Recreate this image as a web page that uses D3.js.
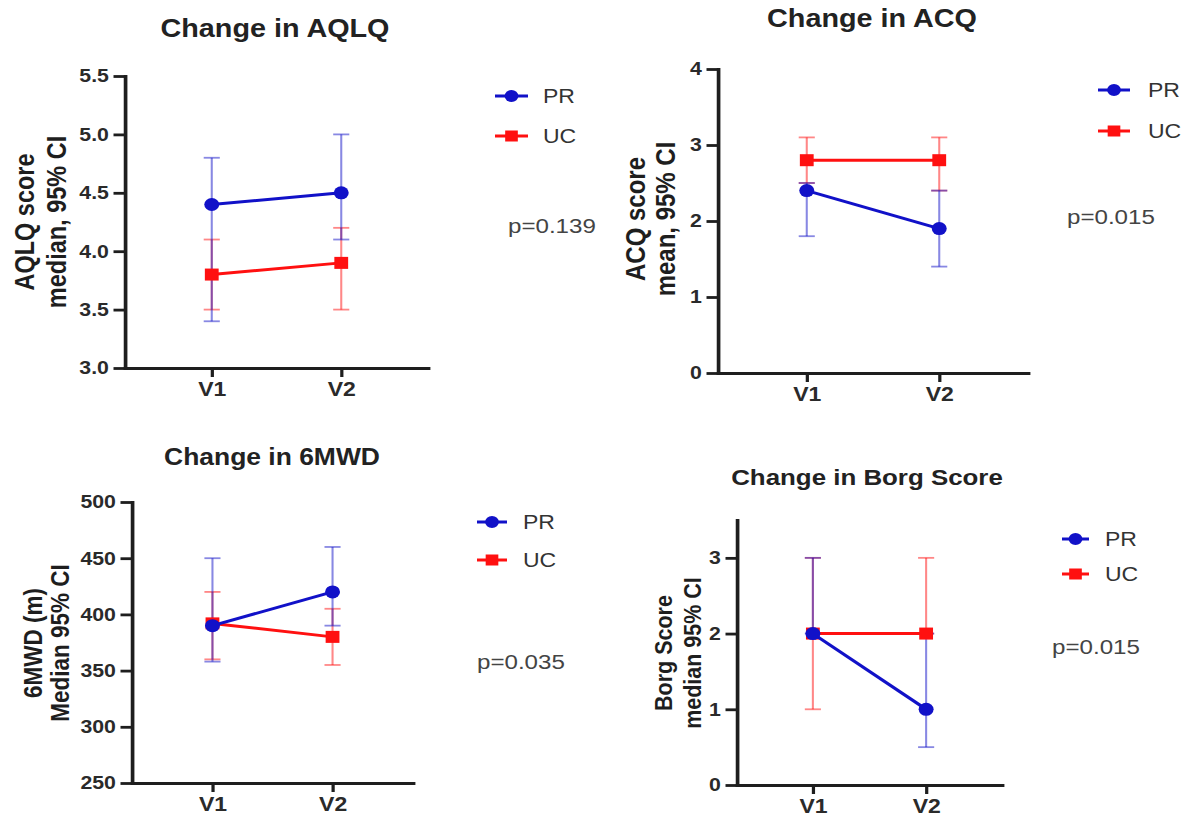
<!DOCTYPE html>
<html>
<head>
<meta charset="utf-8">
<script src="https://cdn.jsdelivr.net/npm/d3@7"></script>
<style>
  body { margin: 0; background: #fff; }
  svg { display: block; }
  text { font-family: "Liberation Sans", Arial, sans-serif; }
</style>
</head>
<body>
<div id="chart"></div>
<script>
// visits on the x axis
const visits = ["V1", "V2"];

// each entry: [value, lower CI, upper CI] per visit
const aqlqPR = [[4.4, 3.4, 4.8], [4.5, 4.1, 5.0]];
const aqlqUC = [[3.8, 3.5, 4.1], [3.9, 3.5, 4.2]];
const acqPR = [[2.4, 1.8, 2.5], [1.9, 1.4, 2.4]];
const acqUC = [[2.8, 2.5, 3.1], [2.8, 2.4, 3.1]];
const mwdPR = [[390, 358, 450], [420, 390, 460]];
const mwdUC = [[392, 360, 420], [380, 355, 405]];
const borgPR = [[2, 2, 3], [1, 0.5, 2]];
const borgUC = [[2, 1, 3], [2, 2, 3]];

// tick labels
const aqlqTicks = [3.0, 3.5, 4.0, 4.5, 5.0, 5.5];
const acqTicks = [0, 1, 2, 3, 4];
const mwdTicks = [250, 300, 350, 400, 450, 500];
const borgTicks = [0, 1, 2, 3];

const pValues = ["p=0.139", "p=0.015", "p=0.035", "p=0.015"];
const seriesNames = ["PR", "UC"];

// the picture is stretched horizontally, everything is drawn in a scaled group
const S = 1.15;
const sx = v => v / S;

const blue = "#1111c8";
const red = "#ff1010";

const svg = d3.select("#chart")
    .append("svg")
    .attr("width", 1198)
    .attr("height", 818);

const root = svg.append("g")
    .attr("transform", `scale(${S},1)`);

// layout of the 4 panels (image pixels)
const panels = [
    {
        title: "Change in AQLQ", titleX: 275, titleY: 37, titleSize: 25,
        ylab: ["AQLQ score", "median, 95% CI"], ylabX: [25, 57], ylabY: 222, ylabSize: 23.5,
        axisX: 125, axisRight: 428, yTop: 76, yBottom: 368,
        domain: [3, 5.5], ticks: aqlqTicks, fmt: d3.format(".1f"),
        pr: aqlqPR, uc: aqlqUC,
        legX0: 495, legX1: 528, legTextX: 543, legY: [96, 136],
        p: pValues[0], pX: 508, pY: 233
    },
    {
        title: "Change in ACQ", titleX: 872, titleY: 27, titleSize: 25,
        ylab: ["ACQ score", "mean, 95% CI"], ylabX: [635, 665], ylabY: 219, ylabSize: 24,
        axisX: 718, axisRight: 1028, yTop: 69, yBottom: 373,
        domain: [0, 4], ticks: acqTicks, fmt: d3.format("d"),
        pr: acqPR, uc: acqUC,
        legX0: 1098, legX1: 1130, legTextX: 1148, legY: [90, 131],
        p: pValues[1], pX: 1067, pY: 224
    },
    {
        title: "Change in 6MWD", titleX: 272, titleY: 465, titleSize: 23,
        ylab: ["6MWD (m)", "Median 95% CI"], ylabX: [33, 60], ylabY: 643, ylabSize: 22.5,
        axisX: 132, axisRight: 413, yTop: 502, yBottom: 783,
        domain: [250, 500], ticks: mwdTicks, fmt: d3.format("d"),
        pr: mwdPR, uc: mwdUC,
        legX0: 477, legX1: 507, legTextX: 523, legY: [522, 560],
        p: pValues[2], pX: 477, pY: 669
    },
    {
        title: "Change in Borg Score", titleX: 867, titleY: 485, titleSize: 22.5,
        ylab: ["Borg Score", "median 95% CI"], ylabX: [663, 692], ylabY: 653, ylabSize: 21.5,
        axisX: 737, axisRight: 1002, yTop: 520, yBottom: 785,
        domain: [0, 3.5], ticks: borgTicks, fmt: d3.format("d"),
        pr: borgPR, uc: borgUC,
        legX0: 1062, legX1: 1089, legTextX: 1105, legY: [539, 574],
        p: pValues[3], pX: 1052, pY: 654
    }
];

// marker helpers
function drawMarker(g, shape, cx, cy, color, size) {
    if (shape === "circle") {
        g.append("circle")
            .attr("cx", cx).attr("cy", cy).attr("r", size / 2)
            .attr("fill", color);
    } else {
        g.append("rect")
            .attr("x", cx - size / 2 + 0.5).attr("y", cy - size / 2 + 0.5)
            .attr("width", size - 1).attr("height", size - 1)
            .attr("fill", color);
    }
}

panels.forEach(p => {
    const g = root.append("g");

    const x = d3.scalePoint()
        .domain(visits)
        .range([sx(p.axisX), sx(p.axisRight)])
        .padding(0.67);

    const y = d3.scaleLinear()
        .domain(p.domain)
        .range([p.yBottom, p.yTop]);

    // titre
    g.append("text")
        .attr("x", sx(p.titleX))
        .attr("y", p.titleY)
        .attr("text-anchor", "middle")
        .style("font-size", p.titleSize + "px")
        .style("font-weight", "bold")
        .attr("fill", "#222")
        .text(p.title);

    // axe Y
    const yAxis = g.append("g")
        .attr("transform", `translate(${sx(p.axisX)},0)`)
        .call(d3.axisLeft(y).tickValues(p.ticks).tickFormat(p.fmt)
            .tickSize(10).tickPadding(4).tickSizeOuter(0));

    // axe X
    const xAxis = g.append("g")
        .attr("transform", `translate(0,${p.yBottom})`)
        .call(d3.axisBottom(x).tickSize(9).tickPadding(5).tickSizeOuter(0));

    [yAxis, xAxis].forEach(a => {
        a.select(".domain").attr("stroke", "#1e1e1e").attr("stroke-width", 3.2)
            .attr("stroke-linecap", "square");
        a.selectAll(".tick line").attr("stroke", "#1e1e1e").attr("stroke-width", 2.8);
        a.selectAll(".tick text")
            .attr("fill", "#2a2a2a")
            .style("font-weight", "bold")
            .style("font-family", "'Liberation Sans', Arial, sans-serif");
    });
    yAxis.selectAll(".tick text").style("font-size", "18.5px");
    xAxis.selectAll(".tick text").style("font-size", "20px");

    // titre axe Y (2 lignes)
    p.ylab.forEach((t, i) => {
        g.append("text")
            .attr("transform", `translate(${sx(p.ylabX[i])},${p.ylabY}) rotate(-90)`)
            .attr("text-anchor", "middle")
            .attr("dy", "0.35em")
            .style("font-size", p.ylabSize + "px")
            .style("font-weight", "bold")
            .attr("fill", "#1e1e1e")
            .text(t);
    });

    // series: UC first, PR on top
    const series = [
        { data: p.uc, color: red, shape: "square" },
        { data: p.pr, color: blue, shape: "circle" }
    ];

    // barres d'erreur
    series.forEach(s => {
        s.data.forEach((d, i) => {
            const cx = x(visits[i]);
            const eg = g.append("g")
                .attr("stroke", s.color)
                .attr("stroke-width", 1.8)
                .attr("stroke-opacity", 0.5);
            eg.append("line")
                .attr("x1", cx).attr("x2", cx)
                .attr("y1", y(d[1])).attr("y2", y(d[2]));
            eg.append("line")
                .attr("x1", cx - 7).attr("x2", cx + 7)
                .attr("y1", y(d[1])).attr("y2", y(d[1]));
            eg.append("line")
                .attr("x1", cx - 7).attr("x2", cx + 7)
                .attr("y1", y(d[2])).attr("y2", y(d[2]));
        });
    });

    // lignes + marqueurs
    series.forEach(s => {
        g.append("path")
            .datum(s.data)
            .attr("d", d3.line().x((d, i) => x(visits[i])).y(d => y(d[0])))
            .attr("fill", "none")
            .attr("stroke", s.color)
            .attr("stroke-width", 3);
        s.data.forEach((d, i) => drawMarker(g, s.shape, x(visits[i]), y(d[0]), s.color, 13));
    });

    // légende
    const leg = [
        { name: seriesNames[0], color: blue, shape: "circle" },
        { name: seriesNames[1], color: red, shape: "square" }
    ];
    leg.forEach((l, i) => {
        const ly = p.legY[i];
        g.append("line")
            .attr("x1", sx(p.legX0)).attr("x2", sx(p.legX1))
            .attr("y1", ly).attr("y2", ly)
            .attr("stroke", l.color).attr("stroke-width", 3);
        drawMarker(g, l.shape, sx((p.legX0 + p.legX1) / 2), ly, l.color, 12);
        g.append("text")
            .attr("x", sx(p.legTextX))
            .attr("y", ly)
            .attr("dy", "0.36em")
            .style("font-size", "20px")
            .attr("fill", "#333")
            .text(l.name);
    });

    // p-value
    g.append("text")
        .attr("x", sx(p.pX))
        .attr("y", p.pY)
        .style("font-size", "21px")
        .attr("fill", "#444")
        .text(p.p);
});
</script>
</body>
</html>
